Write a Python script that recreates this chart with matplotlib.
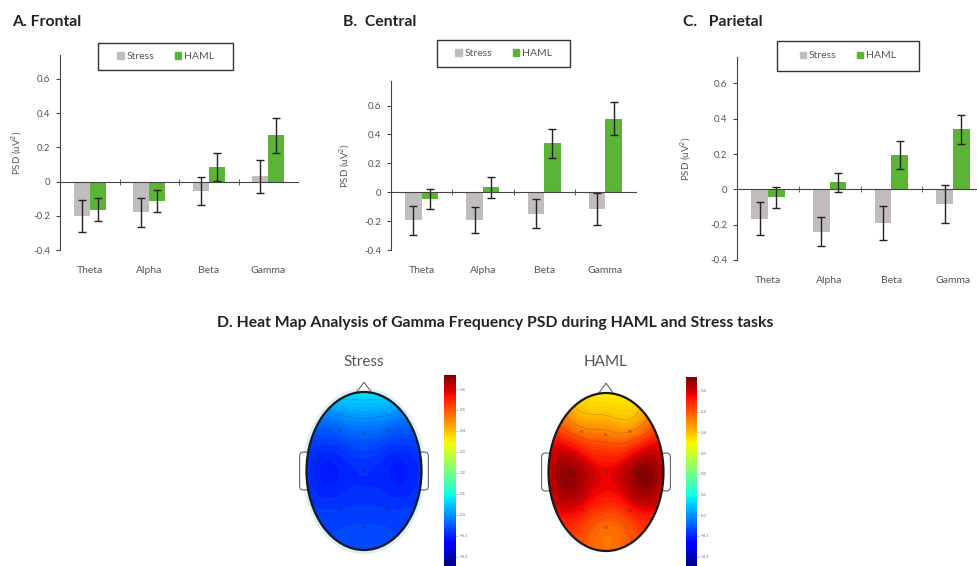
# EEG band power bars + gamma topomaps
import numpy as np
import matplotlib.pyplot as plt
import matplotlib.tri as mtri
from matplotlib.patches import Ellipse, Polygon, FancyBboxPatch, Rectangle
from matplotlib.cm import ScalarMappable
from matplotlib.colors import Normalize

plt.rcParams['font.family'] = ['Lato', 'DejaVu Sans']

W, H = 977, 566

bands = ['Theta', 'Alpha', 'Beta', 'Gamma']

frontal_stress = [-0.20, -0.18, -0.055, 0.03]
frontal_stress_err = [0.093, 0.085, 0.083, 0.095]
frontal_haml = [-0.165, -0.115, 0.085, 0.27]
frontal_haml_err = [0.068, 0.065, 0.08, 0.10]

central_stress = [-0.195, -0.19, -0.15, -0.115]
central_stress_err = [0.098, 0.09, 0.10, 0.112]
central_haml = [-0.048, 0.035, 0.34, 0.51]
central_haml_err = [0.068, 0.072, 0.10, 0.112]

parietal_stress = [-0.165, -0.24, -0.19, -0.085]
parietal_stress_err = [0.095, 0.083, 0.095, 0.108]
parietal_haml = [-0.045, 0.04, 0.195, 0.34]
parietal_haml_err = [0.058, 0.055, 0.08, 0.083]

# gamma PSD at electrode sites (head units, x right, y towards nose)
electrodes = ['F3', 'Fz', 'F4', 'C3', 'Cz', 'C4', 'P3', 'P4', 'Oz']
elec_x = [-0.42, 0.0, 0.42, -0.55, 0.0, 0.55, -0.40, 0.42, 0.0]
elec_y = [0.70, 0.64, 0.70, 0.0, 0.0, 0.0, -0.68, -0.68, -0.97]
stress_gamma = [-0.045, -0.04, -0.045, -0.105, -0.09, -0.105, -0.08, -0.08, -0.07]
haml_gamma = [0.47, 0.47, 0.45, 0.645, 0.58, 0.65, 0.56, 0.55, 0.48]

# values on the head rim
rim_angle = [90, 60, 30, 0, -30, -60, -90, -120, -150, 180, 150, 120]
stress_rim = [0.09, 0.05, -0.05, -0.08, -0.075, -0.07, -0.065, -0.07, -0.075, -0.08, -0.05, 0.05]
haml_rim = [0.34, 0.39, 0.53, 0.58, 0.56, 0.51, 0.48, 0.51, 0.56, 0.58, 0.53, 0.39]

cbar_ticks = [-0.2, -0.1, 0, 0.1, 0.2, 0.3, 0.4, 0.5, 0.6]
vmin, vmax = -0.245, 0.667

GRAY = '#c1bdbd'
GREEN = '#5cb436'
TXT = '#555555'

fig = plt.figure(figsize=(W / 100, H / 100), dpi=100)


def px_axes(x0, y0, x1, y1):
    return fig.add_axes([x0 / W, 1 - y1 / H, (x1 - x0) / W, (y1 - y0) / H])


def bar_panel(box, ymax, stress, stress_err, haml, haml_err, ylab_x):
    ax = px_axes(*box)
    x = np.arange(len(bands))
    w = 0.27
    ekw = dict(ecolor='#222222', elinewidth=1, capsize=3, capthick=1)
    ax.bar(x - w / 2, stress, w, yerr=stress_err, color=GRAY, error_kw=ekw, zorder=2)
    ax.bar(x + w / 2, haml, w, yerr=haml_err, color=GREEN, error_kw=ekw, zorder=2)
    ax.set_xlim(-0.5, 3.5)
    ax.set_ylim(-0.4, ymax)
    ax.set_yticks([-0.4, -0.2, 0, 0.2, 0.4, 0.6])
    ax.set_yticklabels(['-0.4', '-0.2', '0', '0.2', '0.4', '0.6'])
    ax.set_xticks(x)
    ax.set_xticklabels(bands)
    ax.set_xticks(x[:-1] + 0.5, minor=True)
    for s in ['right', 'bottom']:
        ax.spines[s].set_visible(False)
    ax.spines['top'].set_position(('data', 0))
    ax.spines['top'].set_color('#444444')
    ax.spines['left'].set_color('#444444')
    ax.tick_params(axis='y', length=3, width=0.8, color='#444444', labelsize=7, labelcolor=TXT, pad=4)
    ax.tick_params(axis='x', which='major', bottom=False, top=False, labelsize=7.5, labelcolor=TXT, pad=8)
    ax.tick_params(axis='x', which='minor', bottom=False, top=True, length=4, direction='inout', color='#444444')
    ax.set_ylabel('PSD (uV$^2$)', fontsize=7, color=TXT)
    ax.yaxis.set_label_coords(ylab_x, 0.5)
    return ax


bar_panel((60, 55, 298, 250), 0.74, frontal_stress, frontal_stress_err, frontal_haml, frontal_haml_err, -0.15)
bar_panel((391, 81, 636, 250), 0.77, central_stress, central_stress_err, central_haml, central_haml_err, -0.16)
bar_panel((737, 57, 984, 260), 0.75, parietal_stress, parietal_stress_err, parietal_haml, parietal_haml_err, -0.18)

# legends with their frames
for bx in [(98, 43, 233, 70), (437, 40, 570, 67), (777, 41, 919, 71)]:
    fig.patches.append(Rectangle((bx[0] / W, 1 - bx[3] / H), (bx[2] - bx[0]) / W, (bx[3] - bx[1]) / H,
                                 transform=fig.transFigure, fill=False, edgecolor='#333333', lw=1))
    handles = [Rectangle((0, 0), 1, 1, color=GRAY), Rectangle((0, 0), 1, 1, color=GREEN)]
    fig.legend(handles, ['Stress', 'HAML'], loc='center',
               bbox_to_anchor=((bx[0] + bx[2]) / 2 / W, 1 - (bx[1] + bx[3]) / 2 / H),
               ncol=2, frameon=False, fontsize=7.5, handlelength=0.6, handleheight=0.6,
               handletextpad=0.25, columnspacing=2.0, labelcolor=TXT)

fig.text(12 / W, 1 - 22 / H, 'A. Frontal', fontsize=11.3, fontweight='bold', va='center', color='#222222')
fig.text(343 / W, 1 - 22 / H, 'B.  Central', fontsize=11.3, fontweight='bold', va='center', color='#222222')
fig.text(683 / W, 1 - 22 / H, 'C.   Parietal', fontsize=11.3, fontweight='bold', va='center', color='#222222')

fig.text(495 / W, 1 - 323 / H, 'D. Heat Map Analysis of Gamma Frequency PSD during HAML and Stress tasks',
         fontsize=11.3, fontweight='bold', ha='center', va='center', color='#222222')

# topomaps
B = 1.374
S = 57.5
norm = Normalize(vmin, vmax)
levels = np.linspace(vmin, vmax, 90)


def topo(cx, cy, values, rim, label, cbox, glow):
    ax = px_axes(cx - 1.3 * S, cy - 1.62 * S, cx + 1.3 * S, cy + 1.45 * S)
    ax.set_xlim(-1.3, 1.3)
    ax.set_ylim(-1.45, 1.62)
    ax.axis('off')
    ang = np.radians(rim_angle)
    px = np.concatenate([elec_x, 1.08 * np.cos(ang)])
    py = np.concatenate([elec_y, 1.08 * B * np.sin(ang)])
    z = np.concatenate([values, rim])
    tri = mtri.Triangulation(px, py)
    tri_r, z_r = mtri.UniformTriRefiner(tri).refine_field(z, subdiv=4)
    if glow:
        ax.add_patch(Ellipse((0, 0), 2.08, 2 * B + 0.08, facecolor='none', edgecolor='#cdeef7', lw=2.5, alpha=0.8))
    for side in [-1, 1]:
        ax.add_patch(FancyBboxPatch((side * 1.04 - 0.08, -0.33), 0.16, 0.66,
                                    boxstyle='round,pad=0,rounding_size=0.07',
                                    facecolor='white', edgecolor='#666666', lw=0.8, zorder=1))
    ax.add_patch(Polygon([(-0.16, B - 0.05), (0, B + 0.17), (0.16, B - 0.05)], closed=True,
                         facecolor='white', edgecolor='#666666', lw=0.8, zorder=1))
    clip = Ellipse((0, 0), 2, 2 * B, transform=ax.transData)
    cs = ax.tricontourf(tri_r, z_r, levels=levels, cmap='jet', norm=norm, extend='both', zorder=2)
    cs.set_clip_path(clip)
    cl = ax.tricontour(tri_r, z_r, levels=np.arange(-0.2, 0.7, 0.05), colors='#333333',
                       linewidths=0.3, alpha=0.4, zorder=3)
    cl.set_clip_path(clip)
    ax.add_patch(Ellipse((0, 0), 2, 2 * B, facecolor='none', edgecolor='#1a1a1a', lw=1.6, zorder=4))
    for name, ex, ey in zip(electrodes, elec_x, elec_y):
        ax.text(ex, ey, name, fontsize=3, ha='center', va='center', color='#222222', alpha=0.6, zorder=5)
    fig.text(cx / W, 1 - 362 / H, label, fontsize=11, ha='center', va='center', color=TXT)
    cax = px_axes(*cbox)
    cb = fig.colorbar(ScalarMappable(norm=norm, cmap='jet'), cax=cax, ticks=cbar_ticks)
    cb.outline.set_visible(False)
    cb.ax.tick_params(labelsize=3.2, length=1.5, width=0.4, color='#888888', labelcolor='#777777', pad=1)


topo(364, 471, stress_gamma, stress_rim, 'Stress', (444, 375, 456, 566), True)
topo(606, 472, haml_gamma, haml_rim, 'HAML', (686, 377, 697, 566), False)

fig.savefig('out.png', dpi=100)
